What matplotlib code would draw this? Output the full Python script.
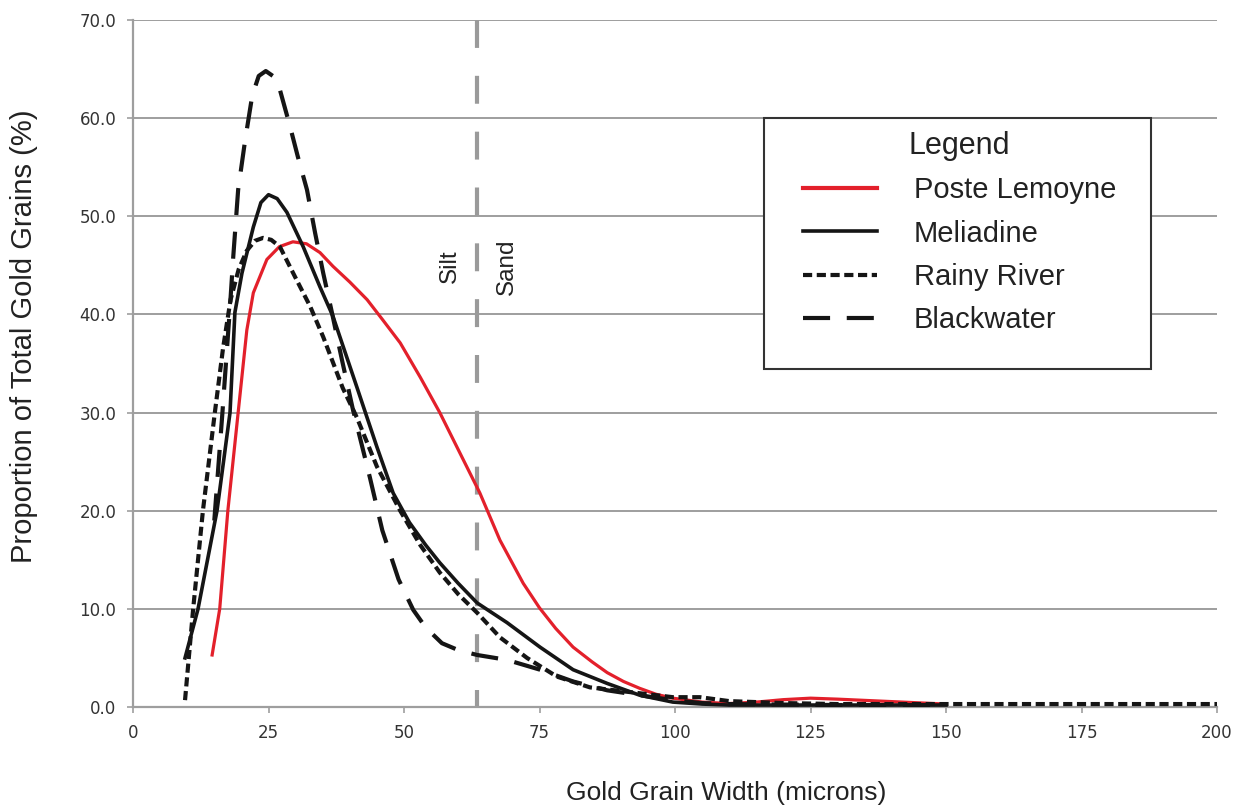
import matplotlib
matplotlib.use("Agg")
import matplotlib.pyplot as plt
from matplotlib.patches import Rectangle

# Data
poste_x = [14.6, 16, 17.5, 19.4, 21, 22.2, 24.7, 27, 29.5, 32, 34.5, 36.9, 40, 43.2, 46, 49.3,
           53, 56.6, 60.3, 64, 67.7, 72, 75, 78, 81.2, 84.7, 87.5, 90.5, 93.5, 96.5, 99.6,
           105, 110, 115, 120, 125, 130, 140, 150]
poste_y = [5.3, 10, 20, 30, 38.4, 42.2, 45.6, 46.9, 47.4, 47.2, 46.3, 44.9, 43.3, 41.5, 39.5, 37.1,
           33.6, 30, 25.9, 21.8, 17.0, 12.6, 10.1, 8.0, 6.1, 4.6, 3.5, 2.6, 1.9, 1.3, 0.9,
           0.5, 0.35, 0.5, 0.75, 0.9, 0.8, 0.55, 0.3]

meli_x = [9.6, 12, 15.5, 17.9, 18.8, 20.1, 22.2, 23.6, 25, 26.6, 28.4, 31.4, 34.5, 36.9, 41.3,
          45, 48, 51, 54, 56.6, 60, 63.5, 69, 75.1, 81.2, 87.5, 93.5, 99.6, 105, 110, 120, 130,
          140, 150]
meli_y = [5.0, 10, 20, 30, 40.2, 44.2, 48.9, 51.4, 52.2, 51.8, 50.4, 46.9, 42.8, 39.8, 32.6,
          26.5, 21.8, 18.8, 16.5, 14.7, 12.6, 10.6, 8.6, 6.1, 3.8, 2.4, 1.2, 0.5, 0.3, 0.2, 0.2,
          0.2, 0.2, 0.2]

rainy_x = [9.6, 11.1, 12.9, 15.1, 16.6, 18, 19.5, 21, 22.5, 24, 25.5, 27.1, 30.2, 32.7, 35.1,
           38.7, 41.3, 45, 49.3, 53, 56.6, 60, 63.5, 67.7, 72.7, 78.2, 84.3, 93.5, 99.6, 104.6,
           110, 120, 130, 150, 175, 200]
rainy_y = [0.7, 10, 20, 30, 36.5, 41.5, 44.6, 46.5, 47.5, 47.8, 47.6, 46.9, 43.5, 40.8, 37.7,
           32.5, 29.5, 24.5, 20, 16.5, 13.7, 11.5, 9.6, 7.1, 5.0, 3.1, 2.0, 1.4, 1.0, 1.0,
           0.6, 0.4, 0.3, 0.3, 0.3, 0.3]

black_x = [15, 16.5, 17.9, 18.5, 19.4, 20.7, 22, 23.2, 24.5, 25.8, 27.1, 29, 30.4, 32.1, 33.6,
           35.1, 36.7, 38.5, 40.5, 43.7, 46, 49, 51.7, 54, 57, 60, 63.5, 69, 75.1, 81.2, 87.5,
           93.5, 99.6, 105, 110, 120, 130, 140, 150]
black_y = [19, 30, 40.8, 45.9, 52.7, 57.8, 62.3, 64.3, 64.8, 64.3, 62.9, 59.1, 56.1, 52.7, 48.3,
           44.2, 40.2, 35.5, 30.5, 23.4, 18, 13, 9.9, 8.1, 6.5, 5.8, 5.3, 4.8, 3.8, 2.6, 1.7,
           1.2, 0.7, 0.4, 0.3, 0.25, 0.2, 0.2, 0.2]

silt_sand_x = 63.5
x_ticks = [0, 25, 50, 75, 100, 125, 150, 175, 200]
y_ticks = [0, 10, 20, 30, 40, 50, 60, 70]

fig = plt.figure(figsize=(12.4, 8.09), dpi=100)
ax = fig.add_axes([133 / 1240, 1 - 707 / 809, 1084 / 1240, 687 / 809])

ax.set_xlim(0, 200)
ax.set_ylim(0, 70)

grey = "#9e9e9e"
ax.yaxis.grid(True, color=grey, lw=1.4)
ax.set_axisbelow(True)
for s in ["top", "right"]:
    ax.spines[s].set_visible(False)
for s in ["left", "bottom"]:
    ax.spines[s].set_color(grey)
    ax.spines[s].set_linewidth(1.6)

ax.set_xticks(x_ticks)
ax.set_yticks(y_ticks)
ax.set_yticklabels(["%.1f" % v for v in y_ticks])
ax.tick_params(direction="out", length=4, width=1.2, color=grey, pad=8,
               labelsize=12, labelcolor="#333333")
for lab in ax.get_xticklabels() + ax.get_yticklabels():
    lab.set_family("DejaVu Sans")

# silt / sand boundary
ax.plot([silt_sand_x, silt_sand_x], [70, 0], color="#9a9a9a", lw=3,
        linestyle=(0, (6.7, 6.7)), zorder=1)
ax.text(58.5, 44.9, "Silt", rotation=90, ha="center", va="center",
        fontsize=17.5, family="Liberation Sans", color="#222222")
ax.text(69, 44.9, "Sand", rotation=90, ha="center", va="center",
        fontsize=17.5, family="Liberation Sans", color="#222222")

l1, = ax.plot(poste_x, poste_y, color="#e3202b", lw=2.3, label="Poste Lemoyne", zorder=3)
l2, = ax.plot(meli_x, meli_y, color="#151515", lw=2.6, label="Meliadine", zorder=3)
l3, = ax.plot(rainy_x, rainy_y, color="#151515", lw=3.0, linestyle=(0, (2.2, 1.1)),
              label="Rainy River", zorder=3)
l4, = ax.plot(black_x, black_y, color="#151515", lw=3.0, linestyle=(0, (6.5, 4)),
              label="Blackwater", zorder=3)

ax.set_xlabel("Gold Grain Width (microns)", fontsize=19, family="Liberation Sans",
              color="#222222")
ax.set_ylabel("Proportion of Total Gold Grains (%)", fontsize=21, family="Liberation Sans",
              color="#222222")
ax.xaxis.set_label_coords(0.547, -0.108)
ax.yaxis.set_label_coords(-0.088, 0.54)

# legend frame and entries
ax.add_patch(Rectangle((0.5821, 0.4920), 0.3570, 0.3654, transform=ax.transAxes,
                       facecolor="white", edgecolor="#333333", lw=1.5, zorder=4))
leg = ax.legend(handles=[l1, l2, l3, l4], title="Legend", loc="upper left",
                bbox_to_anchor=(0.618, 0.838), frameon=False, borderpad=0,
                borderaxespad=0, handlelength=2.55, handletextpad=1.25,
                labelspacing=0.52, prop={"family": "Liberation Sans", "size": 21},
                title_fontproperties={"family": "Liberation Sans", "size": 22})
leg.set_zorder(5)
for t in leg.get_texts():
    t.set_color("#222222")
leg.get_title().set_color("#222222")
leg.get_lines()[0].set_linewidth(3.0)

fig.savefig("out.png", dpi=100)
